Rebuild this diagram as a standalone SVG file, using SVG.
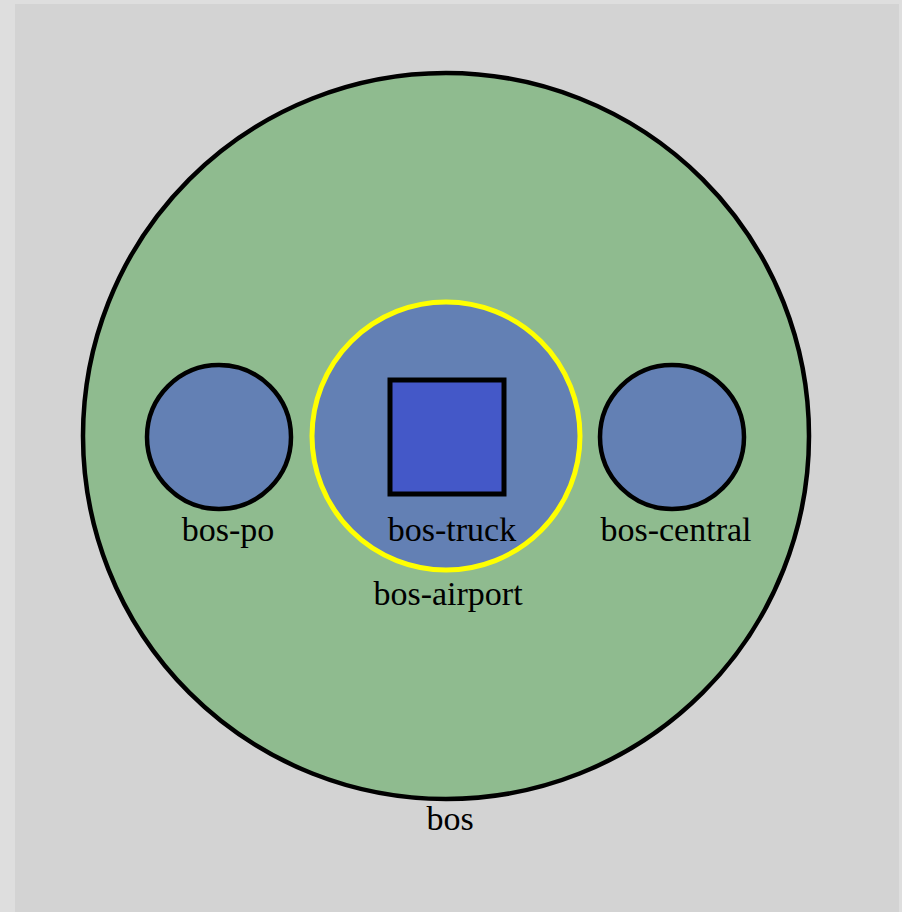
<svg xmlns="http://www.w3.org/2000/svg" width="902" height="912" viewBox="0 0 902 912">
<style>
.lbl{font-family:"Liberation Serif","Times New Roman",serif;font-size:34px;fill:#000;text-anchor:middle}
.node{fill:#6380b4;stroke:#000;stroke-width:4.5}
</style>
<rect x="0" y="0" width="902" height="912" fill="#dedede"/>
<rect x="15" y="4" width="884" height="908" fill="#d3d3d3"/>
<g id="bos">
<circle cx="446" cy="436" r="363" fill="#8fbb8f" stroke="#000" stroke-width="4.5"/>
<text class="lbl" x="450" y="830">bos</text>
</g>
<g id="bos-po">
<circle class="node" cx="219" cy="437" r="72"/>
<text class="lbl" x="228" y="541">bos-po</text>
</g>
<g id="bos-airport">
<circle cx="446" cy="436" r="134" fill="#6380b4" stroke="#ffff00" stroke-width="5"/>
<text class="lbl" x="448" y="605">bos-airport</text>
</g>
<g id="bos-truck">
<rect x="390" y="380" width="114" height="114" fill="#4458c8" stroke="#000" stroke-width="5"/>
<text class="lbl" x="452" y="541">bos-truck</text>
</g>
<g id="bos-central">
<circle class="node" cx="672" cy="437" r="72"/>
<text class="lbl" x="676" y="541">bos-central</text>
</g>
<g id="connectors"></g>
</svg>
